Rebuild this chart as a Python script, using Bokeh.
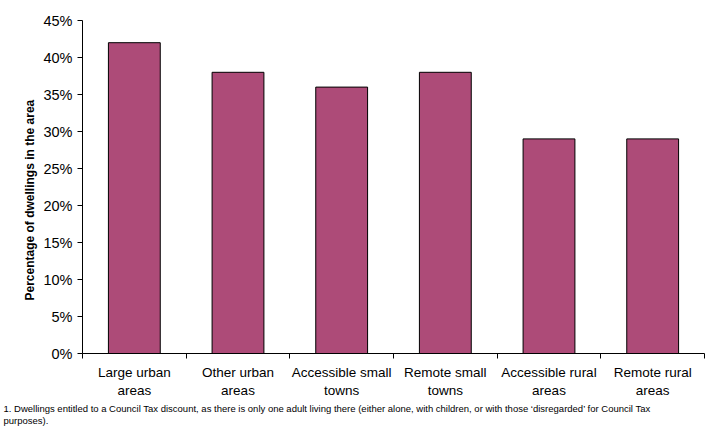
from bokeh.plotting import figure
from bokeh.models import FixedTicker, NumeralTickFormatter, Range1d, Title, ColumnDataSource
from bokeh.embed import file_html
from bokeh.resources import INLINE

categories = ["Large urban\nareas", "Other urban\nareas", "Accessible small\ntowns",
              "Remote small\ntowns", "Accessible rural\nareas", "Remote rural\nareas"]
values = [0.42, 0.38, 0.36, 0.38, 0.29, 0.29]
y_ticks = [0, 0.05, 0.10, 0.15, 0.20, 0.25, 0.30, 0.35, 0.40, 0.45]
y_label = "Percentage of dwellings in  the area"
footnote = ("1. Dwellings entitled to a Council Tax discount, as there is only one adult living there "
            "(either alone, with children, or with those \u2018disregarded\u2019 for Council Tax\npurposes).")

FONT = "Liberation Sans"
BAR = "#ad4b78"

xs = [i + 0.5 for i in range(len(categories))]
src = ColumnDataSource(dict(x=xs, top=values))

p = figure(width=716, height=429, output_backend="svg", toolbar_location=None,
           x_range=Range1d(0, len(categories)), y_range=Range1d(0, 0.45),
           min_border_left=82, min_border_right=12, min_border_top=20, min_border_bottom=76)
p.outline_line_color = None
p.xgrid.visible = False
p.ygrid.visible = False

p.vbar(x="x", top="top", width=0.5, source=src, fill_color=BAR, line_color="black", line_width=1)

# x axis
p.xaxis.ticker = FixedTicker(ticks=xs, minor_ticks=list(range(len(categories) + 1)))
p.xaxis.major_label_overrides = {x: c for x, c in zip(xs, categories)}
p.xaxis.major_tick_line_color = None
p.xaxis.minor_tick_in = 0
p.xaxis.minor_tick_out = 5
p.xaxis.minor_tick_line_color = "black"
p.xaxis.axis_line_color = "black"
p.xaxis.major_label_text_font = FONT
p.xaxis.major_label_text_font_size = "13.5px"
p.xaxis.major_label_text_line_height = 1.2
p.xaxis.major_label_text_color = "black"
p.xaxis.major_label_standoff = 5

# y axis
p.yaxis.ticker = FixedTicker(ticks=y_ticks, minor_ticks=[])
p.yaxis.formatter = NumeralTickFormatter(format="0%")
p.yaxis.major_tick_in = 0
p.yaxis.major_tick_out = 5
p.yaxis.major_tick_line_color = "black"
p.yaxis.axis_line_color = "black"
p.yaxis.major_label_text_font = FONT
p.yaxis.major_label_text_font_size = "14.5px"
p.yaxis.major_label_text_color = "black"
p.yaxis.major_label_standoff = 5

ytitle = Title(text=y_label, align="left", offset=53, standoff=8,
               text_font=FONT, text_font_size="12px", text_font_style="bold", text_color="black")
p.add_layout(ytitle, "left")

fn = Title(text=footnote, align="left", offset=-79, standoff=0,
           text_font=FONT, text_font_size="9.5px", text_font_style="normal",
           text_color="black", text_line_height=1.15)
p.add_layout(fn, "below")

open("out.html", "w").write(file_html(p, INLINE))
